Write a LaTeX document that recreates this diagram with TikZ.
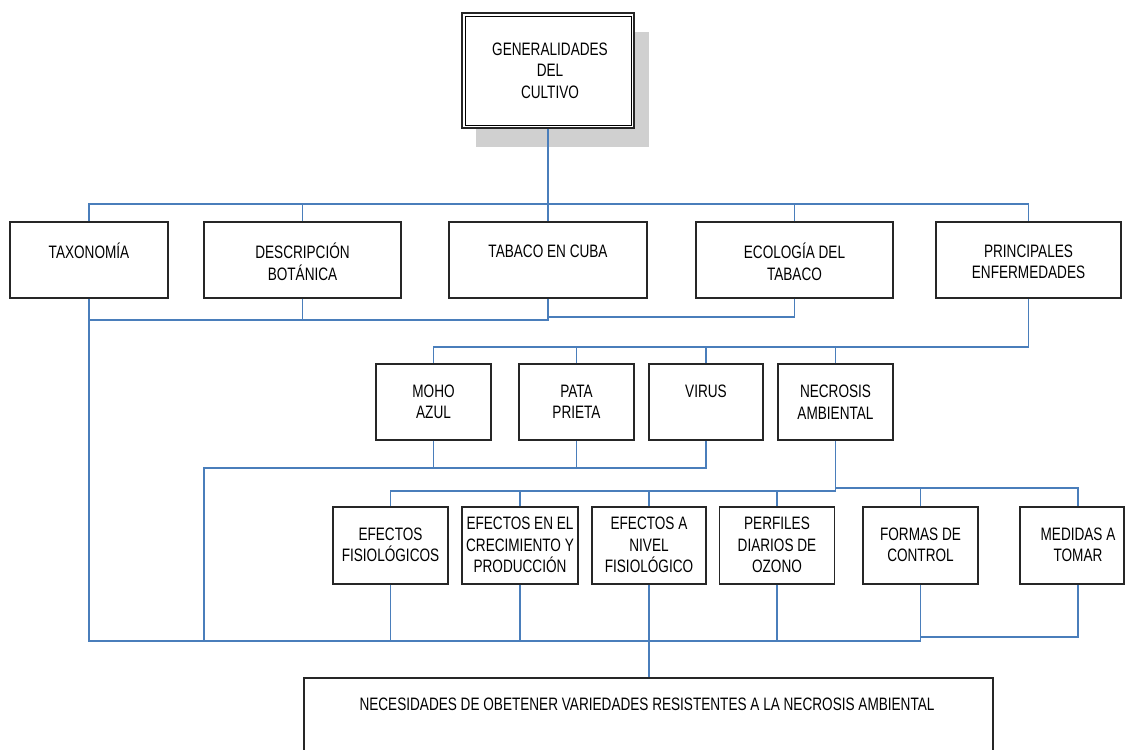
\documentclass[tikz,border=0pt]{standalone}
\usepackage{fontspec}
\setmainfont{Liberation Sans}[FakeStretch=0.755]
\definecolor{linkblue}{RGB}{74,126,187}
\definecolor{shadowgray}{RGB}{208,208,208}
\begin{document}
\begin{tikzpicture}[x=1pt,y=-1pt,
  box/.style={draw=black!85, line width=1.3pt, fill=white, inner sep=0pt},
  txt/.style={align=center, inner sep=0pt, font=\fontsize{18}{21.5}\selectfont},
  link/.style={draw=linkblue, line width=1.2pt}]
\useasboundingbox (0,0) rectangle (1125,750);
% ---------- top box with shadow ----------
\fill[shadowgray] (476,32) rectangle (649,147);
\node[box, line width=2pt, minimum width=172pt, minimum height=115pt] (gen) at (548,70.5) {};
\draw[line width=0.8pt] ([shift={(4,4)}]gen.north west) rectangle ([shift={(-4,-4)}]gen.south east);
\node[txt] (gent) at (550,70.5) {GENERALIDADES\\DEL\\CULTIVO};
% ---------- row 1 ----------
\node[box, minimum width=158pt, minimum height=76pt] (tax)  at (89,260) {};
\node[box, minimum width=197pt, minimum height=76pt] (desc) at (302.5,260) {};
\node[box, minimum width=198pt, minimum height=76pt] (tab)  at (548,260) {};
\node[box, minimum width=197pt, minimum height=76pt] (eco)  at (794.5,260) {};
\node[box, minimum width=185pt, minimum height=76pt] (prin) at (1028.5,260) {};
\node[txt] (taxt)  at (89,251) {TAXONOMÍA};
\node[txt] (desct) at (302.5,262) {DESCRIPCIÓN\\BOTÁNICA};
\node[txt] (tabt)  at (548,251) {TABACO EN CUBA};
\node[txt] (ecot)  at (794.5,262) {ECOLOGÍA DEL\\TABACO};
\node[txt] (print) at (1028.5,262) {PRINCIPALES\\ENFERMEDADES};
% ---------- row 2 ----------
\node[box, minimum width=115pt, minimum height=76pt] (moho)  at (433.5,402) {};
\node[box, minimum width=115pt, minimum height=76pt] (pata)  at (576.5,402) {};
\node[box, minimum width=114pt, minimum height=76pt] (virus) at (706,402) {};
\node[box, minimum width=115pt, minimum height=76pt] (necro) at (835.5,402) {};
\node[txt] (mohot)  at (433.5,402) {MOHO\\AZUL};
\node[txt] (patat)  at (576.5,402) {PATA\\PRIETA};
\node[txt] (virust) at (706,391) {VIRUS};
\node[txt] (necrot) at (835.5,402) {NECROSIS\\AMBIENTAL};
% ---------- row 3 ----------
\node[box, minimum width=115pt, minimum height=77pt] (efis)  at (390.5,545.5) {};
\node[box, minimum width=116pt, minimum height=77pt] (efcre) at (520,545.5) {};
\node[box, minimum width=114pt, minimum height=77pt] (efniv) at (649,545.5) {};
\node[box, minimum width=115pt, minimum height=77pt] (perf)  at (777,545.5) {};
\node[box, minimum width=115pt, minimum height=77pt] (form)  at (920.5,545.5) {};
\node[box, minimum width=104pt, minimum height=77pt] (med)   at (1072,545.5) {};
\node[txt] (efist)  at (390.5,545) {EFECTOS\\FISIOLÓGICOS};
\node[txt] (efcret) at (520,545) {EFECTOS EN EL\\CRECIMIENTO Y\\PRODUCCIÓN};
\node[txt] (efnivt) at (649,545) {EFECTOS A\\NIVEL\\FISIOLÓGICO};
\node[txt] (perft)  at (777,545) {PERFILES\\DIARIOS DE\\OZONO};
\node[txt] (formt)  at (920.5,545) {FORMAS DE\\CONTROL};
\node[txt] (medt)   at (1078,545) {MEDIDAS A\\TOMAR};
% ---------- bottom ----------
\node[box, minimum width=689pt, minimum height=77pt] (nec) at (648.5,716.5) {};
\node[txt] (nect) at (647,704) {NECESIDADES DE OBETENER VARIEDADES RESISTENTES A LA NECROSIS AMBIENTAL};
% ---------- bus levels ----------
\coordinate (b1) at (0,204);
\coordinate (b2) at (0,320);
\coordinate (b2r) at (0,317);
\coordinate (b3) at (0,347);
\coordinate (b4) at (0,468);
\coordinate (lx) at (204,468);
\coordinate (b5) at (0,491);
\coordinate (b5r) at (0,488);
\coordinate (b6) at (0,641);
\coordinate (b6r) at (0,637);
% ---------- connectors ----------
\draw[link] (gen.south) -- (gen.south |- b1);
\draw[link] (tax.north) |- (prin.north |- b1) -- (prin.north);
\draw[link] (desc.north) -- (desc.north |- b1);
\draw[link] (tab.north) -- (tab.north |- b1);
\draw[link] (eco.north) -- (eco.north |- b1);
\draw[link] (desc.south) -- (desc.south |- b2);
\draw[link] (tab.south) -- (tab.south |- b2) -- (tax.south |- b2);
\draw[link] (eco.south) |- (tab.south |- b2r);
\draw[link] (prin.south) |- (moho.north |- b3) -- (moho.north);
\draw[link] (pata.north) -- (pata.north |- b3);
\draw[link] (virus.north) -- (virus.north |- b3);
\draw[link] (necro.north) -- (necro.north |- b3);
\draw[link] (moho.south) -- (moho.south |- b4);
\draw[link] (pata.south) -- (pata.south |- b4);
\draw[link] (virus.south) |- (lx) -- (lx |- b6);
\draw[link] (necro.south) |- (efis.north |- b5) -- (efis.north);
\draw[link] (efcre.north) -- (efcre.north |- b5);
\draw[link] (efniv.north) -- (efniv.north |- b5);
\draw[link] (perf.north) -- (perf.north |- b5);
\draw[link] (necro.south |- b5r) -| ([xshift=6pt]med.north);
\draw[link] (form.north) -- (form.north |- b5r);
\draw[link] (tax.south) |- (form.south |- b6) -- (form.south);
\draw[link] (efis.south) -- (efis.south |- b6);
\draw[link] (efcre.south) -- (efcre.south |- b6);
\draw[link] (efniv.south) -- (efniv.south |- b6);
\draw[link] (perf.south) -- (perf.south |- b6);
\draw[link] (form.south |- b6r) -| ([xshift=6pt]med.south);
\draw[link] (efniv.south |- b6) -- (efniv.south |- nec.north);
\end{tikzpicture}
\end{document}
